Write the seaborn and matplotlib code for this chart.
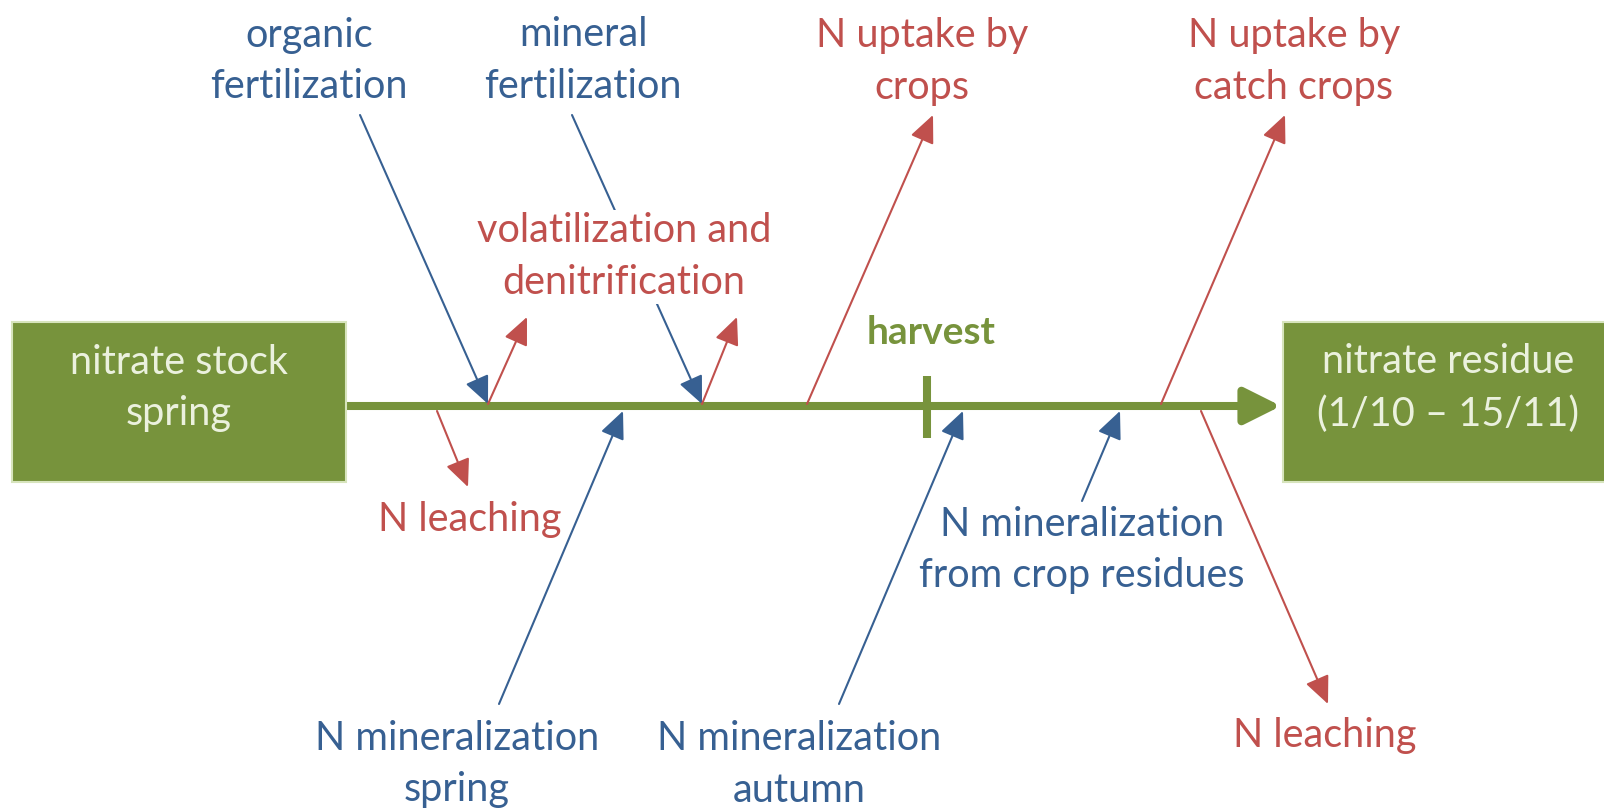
import matplotlib.pyplot as plt
import seaborn as sns
from matplotlib.patches import Rectangle

sns.set_theme(style="white")
plt.rcParams['font.family'] = ['Lato', 'DejaVu Sans']

# colours (Office-like palette of the original slide)
BLUE = "#376092"
RED = "#C0504D"
GREEN = "#77933C"
BOX_TEXT = "#EBF1DE"

# diagram geometry in pixel units (x to the right, y downwards)
main_y = 406
main_x = [346, 1281]
harvest_x = 927
harvest_tick = [376, 438]

boxes = [(12, 322, 334, 160, "nitrate stock\nspring", 179),
         (1283, 322, 330, 160, "nitrate residue\n(1/10 \u2013 15/11)", 1448)]

# arrows: (start, end)
inputs_start = [(360, 115), (572, 115), (499, 704), (839, 704), (1082, 501)]
inputs_end = [(488, 404), (702, 404), (623, 411), (963, 411), (1120, 411)]
losses_start = [(488, 404), (702, 404), (437, 411), (807, 404), (1161, 404), (1201, 411)]
losses_end = [(527, 317), (737, 317), (468, 487), (933, 115), (1285, 115), (1328, 704)]

blue_labels = ["organic\nfertilization", "mineral\nfertilization",
               "N mineralization\nspring", "N mineralization\nautumn",
               "N mineralization\nfrom crop residues"]
blue_pos = [(309, 61), (583, 61), (457, 764), (799, 764), (1082, 550)]
red_labels = ["volatilization and\ndenitrification", "N uptake by\ncrops",
              "N uptake by\ncatch crops", "N leaching", "N leaching"]
red_pos = [(624, 257), (922, 61), (1294, 61), (470, 520), (1325, 736)]

FS = 28.5
LS = 1.5

fig = plt.figure(figsize=(16.04, 8.10), dpi=100)
ax = fig.add_axes([0, 0, 1, 1])
ax.set_xlim(0, 1604)
ax.set_ylim(810, 0)
ax.axis("off")

# main timeline
ax.annotate("", xy=(main_x[1], main_y), xytext=(main_x[0], main_y),
            arrowprops=dict(arrowstyle="-|>,head_length=1.1,head_width=0.55",
                            lw=5.8, color=GREEN, shrinkA=0, shrinkB=0,
                            mutation_scale=20), zorder=2)
ax.plot([harvest_x, harvest_x], harvest_tick, color=GREEN, lw=5.8,
        solid_capstyle="butt", zorder=2)
ax.text(harvest_x + 4, 332, "harvest", color=GREEN, fontsize=28,
        fontweight="bold", ha="center", va="center")

for x, y, w, h, label, tx in boxes:
    ax.add_patch(Rectangle((x, y), w, h, facecolor=GREEN, edgecolor="#D7E4BD",
                           lw=1.5, zorder=3))
    ax.text(tx, y + 66, label, color=BOX_TEXT, fontsize=FS, ha="center",
            va="center", linespacing=LS, zorder=4)

for s, e in zip(inputs_start, inputs_end):
    ax.annotate("", xy=e, xytext=s,
                arrowprops=dict(arrowstyle="-|>,head_length=0.85,head_width=0.38",
                                lw=1.5, color=BLUE, shrinkA=0, shrinkB=0,
                                mutation_scale=20), zorder=3)
for s, e in zip(losses_start, losses_end):
    ax.annotate("", xy=e, xytext=s,
                arrowprops=dict(arrowstyle="-|>,head_length=0.85,head_width=0.38",
                                lw=1.5, color=RED, shrinkA=0, shrinkB=0,
                                mutation_scale=20), zorder=3)

for label, (x, y) in zip(blue_labels, blue_pos):
    ax.text(x, y, label, color=BLUE, fontsize=FS, ha="center", va="center",
            linespacing=LS, zorder=5)
for label, (x, y) in zip(red_labels, red_pos):
    ax.text(x, y, label, color=RED, fontsize=FS, ha="center", va="center",
            linespacing=LS, zorder=5,
            bbox=dict(facecolor="white", edgecolor="none", pad=2))

fig.savefig("out.png", dpi=100)
